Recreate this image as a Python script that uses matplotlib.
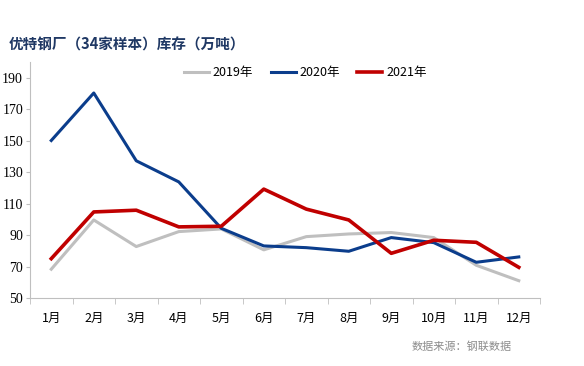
import numpy as np
import matplotlib.pyplot as plt
from matplotlib.ticker import FixedLocator

plt.rcParams['font.family'] = ['Noto Sans CJK SC', 'DejaVu Sans']

months = ["1月", "2月", "3月", "4月", "5月", "6月", "7月", "8月", "9月", "10月", "11月", "12月"]
y2019 = [68.3, 99.6, 82.7, 92.2, 93.9, 80.6, 89.0, 90.7, 91.6, 88.4, 70.8, 61.0]
y2020 = [150.1, 180.3, 137.2, 123.8, 94.3, 83.1, 82.0, 79.7, 88.4, 85.2, 72.7, 76.1]
y2021 = [75.0, 104.7, 105.8, 95.2, 95.6, 119.2, 106.5, 99.6, 78.4, 86.7, 85.4, 69.5]

fig = plt.figure(figsize=(5.84, 3.66), dpi=100)
ax = fig.add_axes([0.0514, 0.1858, 0.8733, 0.6448])

x = np.arange(len(months))
ax.plot(x, y2019, color="#BFBFBF", lw=2.2, label="2019年")
ax.plot(x, y2020, color="#0B3D8C", lw=2.2, label="2020年")
ax.plot(x, y2021, color="#C00000", lw=2.6, label="2021年")

ax.set_xlim(-0.5, len(months) - 0.5)
ax.set_ylim(50, 200)
ax.set_yticks(np.arange(50, 200, 20))
ax.set_xticks(x)
ax.set_xticklabels(months, fontsize=9)
ax.xaxis.set_minor_locator(FixedLocator(np.arange(-0.5, len(months), 1)))
ax.tick_params(axis="x", which="major", length=0, pad=10)
ax.tick_params(axis="x", which="minor", length=4, color="#BFBFBF")
ax.tick_params(axis="y", length=3, color="#BFBFBF", pad=2)
for lab in ax.get_yticklabels():
    lab.set_fontfamily("Liberation Serif")
    lab.set_fontsize(10)

for s in ["top", "right"]:
    ax.spines[s].set_visible(False)
for s in ["left", "bottom"]:
    ax.spines[s].set_color("#BFBFBF")

ax.legend(loc="upper center", bbox_to_anchor=(0.54, 1.03), ncol=3, frameon=False,
          fontsize=9, handlelength=2.0, columnspacing=1.4, handletextpad=0.3)

fig.text(0.014, 0.877, "优特钢厂（34家样本）库存（万吨）", fontsize=10.5, fontweight="bold",
         color="#1F3864", va="center")
fig.text(0.705, 0.052, "数据来源：钢联数据", fontsize=8, color="#8C8C8C", va="center")

fig.savefig("out.png", dpi=100)
